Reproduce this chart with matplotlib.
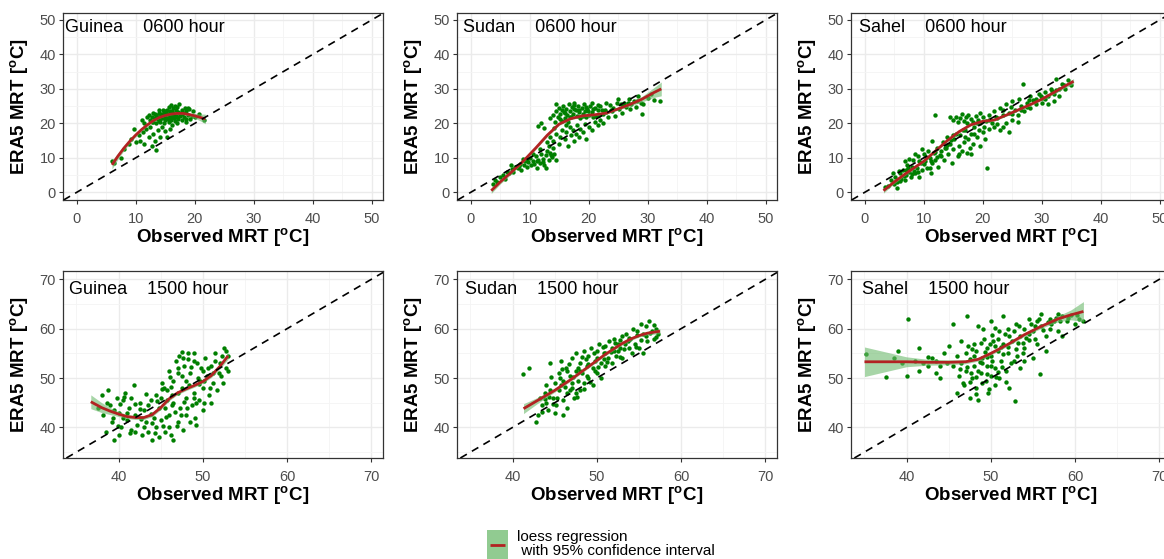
import matplotlib
matplotlib.use("Agg")
import matplotlib.pyplot as plt
import numpy as np

plt.rcParams['font.family'] = ['Liberation Sans', 'DejaVu Sans']
plt.rcParams['mathtext.fontset'] = 'custom'
plt.rcParams['mathtext.rm'] = 'Liberation Sans'
plt.rcParams['mathtext.bf'] = 'Liberation Sans:bold'

# ---------------- data ----------------
regions = ["Guinea", "Sudan", "Sahel"]
hours = ["0600 hour", "1500 hour"]

top_ticks = [0, 10, 20, 30, 40, 50]
top_minor = [5, 15, 25, 35, 45]
bottom_ticks = [40, 50, 60, 70]
bottom_minor = [35, 45, 55, 65]

# Guinea 0600
g06_pts = [(6.0,9.0),(6.3,8.5),(7.5,10.0),(8.0,12.5),(8.8,14.0),(9.3,15.5),(9.8,18.5),(10.0,14.5),(10.5,16.5),(10.8,15.0),
 (11.2,17.5),(11.5,14.0),(11.8,18.5),(12.2,16.0),(12.5,19.0),(12.8,13.5),(13.0,17.0),(13.3,15.0),(13.5,12.2),(13.8,18.0),
 (14.2,16.2),(14.5,19.0),(15.0,17.8),(15.3,16.0),(15.8,18.5),(16.2,19.5),(17.0,20.0),(17.8,21.0),(18.5,20.5),(19.2,21.2),
 (20.0,22.0),(20.8,22.8),(21.5,21.0),(19.8,23.5),(18.8,24.5),(17.3,25.6),(16.0,25.2),(11.0,21.0),(11.5,20.2),(12.0,21.8),
 (12.5,21.0),(12.8,22.0),(13.0,20.5),(13.2,21.5),(13.5,22.5),(13.5,20.0),(13.8,21.2),(14.0,22.0),(14.0,23.0),(14.2,20.5),
 (14.4,21.6),(14.6,22.4),(14.8,23.4),(14.8,20.2),(15.0,21.0),(15.0,22.0),(15.2,23.0),(15.3,24.0),(15.5,21.5),(15.5,22.6),
 (15.7,20.4),(15.8,23.5),(16.0,21.0),(16.0,22.2),(16.2,23.2),(16.3,24.4),(16.5,21.6),(16.5,22.8),(16.7,20.6),(16.8,23.8),
 (17.0,22.0),(17.0,24.8),(17.2,21.2),(17.4,23.0),(17.6,22.2),(17.8,24.0),(18.0,23.0),(18.2,21.8),(18.5,23.6),(18.8,22.4),
 (19.0,24.2),(13.0,23.0),(14.0,24.0),(12.2,22.5),(15.6,24.8),(16.6,25.0),(14.3,22.8),(15.1,21.7),(16.1,23.6),(13.7,21.9),
 (13.2,22.8),(14.6,23.8),(15.4,21.2),(16.4,21.9),(17.1,23.4),(17.9,22.6),(18.6,21.3),(13.9,20.8),(12.7,20.3),(15.9,22.0),
 (16.9,22.2),(14.1,21.3),(15.0,23.6),(18.3,24.6),(19.5,22.1)]
g06_loess_x = [6.0, 7.0, 8.0, 9.0, 10.0, 11.0, 12.0, 13.0, 14.0, 15.0, 16.0, 17.0, 18.0, 19.0, 20.0, 21.0, 21.8]
g06_loess_y = [8.0, 10.5, 12.8, 14.8, 16.6, 18.2, 19.6, 20.8, 21.7, 22.3, 22.7, 22.9, 22.9, 22.6, 22.2, 21.7, 21.3]
g06_loess_ci = [1.2, 0.9, 0.7, 0.6, 0.5, 0.4, 0.3, 0.25, 0.2, 0.2, 0.2, 0.25, 0.3, 0.5, 0.7, 1.0, 1.4]

# Sudan 0600
s06_pts = [(3.8,2.5),(4.2,3.5),(4.5,3.0),(5.0,4.5),(5.5,5.0),(5.8,4.0),(6.2,6.0),(6.5,5.5),(7.0,6.8),(7.2,5.8),
 (7.5,7.5),(8.0,7.0),(8.3,8.2),(8.6,6.5),(9.0,8.0),(9.2,9.2),(9.5,7.5),(9.8,8.8),(10.0,10.0),(10.3,7.8),
 (10.5,9.0),(10.8,8.2),(11.0,10.5),(11.2,7.0),(11.5,9.5),(11.8,8.5),(12.0,11.0),(12.3,9.8),(12.5,8.0),(12.8,10.8),
 (13.0,12.0),(13.3,9.5),(13.5,11.5),(13.8,10.2),(14.0,12.8),(14.2,11.0),(14.5,9.5),
 (13.0,14.5),(13.5,16.0),(14.0,15.0),(14.5,17.0),(15.0,14.0),(15.2,16.2),(15.5,18.0),(16.0,15.5),(16.2,17.5),
 (16.5,13.5),(16.8,19.0),(17.0,16.5),(17.3,18.2),(17.5,15.0),(17.8,17.0),(18.0,19.5),(18.3,16.0),(18.6,18.5),(19.0,17.5),
 (19.3,19.8),(19.6,15.5),(20.0,19.0),(20.5,18.0),(21.0,20.5),(21.5,19.5),(22.0,21.0),(22.5,20.0),(12.0,20.0),(11.5,19.2),(12.5,18.8),
 (13.5,21.5),(14.0,22.5),(14.3,20.5),(14.5,23.5),(14.8,21.8),(15.0,24.5),(15.2,22.8),(15.5,20.8),(15.7,25.0),(15.8,23.2),
 (16.0,21.5),(16.2,24.2),(16.4,22.4),(16.6,25.5),(16.8,23.6),(17.0,21.8),(17.2,24.8),(17.4,22.8),(17.6,26.0),(17.8,23.8),
 (18.0,22.2),(18.2,25.0),(18.4,23.2),(18.6,21.5),(18.8,24.5),(19.0,22.8),(19.2,25.5),(19.4,23.6),(19.6,21.8),(19.8,24.2),
 (20.0,22.5),(20.3,25.0),(20.6,23.2),(21.0,24.5),(21.3,22.2),(21.6,23.8),(22.0,25.0),(22.4,22.8),(22.8,24.0),(23.2,21.8),
 (23.6,25.2),(24.0,23.5),(24.4,22.2),(24.8,25.8),(25.2,24.2),(25.6,23.0),(26.0,26.0),(26.4,24.8),(26.8,27.2),(27.2,25.5),
 (27.6,26.5),(28.0,24.8),(28.4,27.8),(28.8,26.0),(29.2,25.5),(29.0,22.8),(30.0,27.5),(30.5,28.5),(31.0,26.8),(32.0,26.5),
 (23.0,26.0),(25.0,27.0),(20.5,26.0),(14.5,25.5),
 (15.5,23.8),(16.5,20.5),(17.5,25.2),(18.5,22.0),(19.5,24.8),(20.8,21.8),(21.8,22.5),(23.0,23.2),(24.2,24.6),(25.8,25.2),
 (27.0,24.2),(28.2,26.5),(16.2,19.5),(14.2,18.8),(10.5,11.0),(11.8,12.5),(13.2,13.5),(8.8,9.8),(6.8,7.8),(12.8,7.2),
 (15.2,21.2),(16.0,23.0),(16.8,22.0),(17.6,24.2),(18.3,23.8),(19.1,22.2),(19.9,23.5),(20.7,24.2),(21.5,25.2),(22.2,23.8),
 (23.8,24.0),(25.4,25.5),(26.6,25.8),(11.2,9.2),(12.2,8.8),(13.6,10.8),(9.6,9.6),(8.2,7.6)]
s06_loess_x = [3.5, 5.0, 7.0, 9.0, 11.0, 13.0, 15.0, 17.0, 19.0, 21.0, 23.0, 25.0, 27.0, 29.0, 31.0, 32.3]
s06_loess_y = [0.5, 3.0, 6.0, 9.2, 12.8, 16.6, 19.8, 21.4, 22.2, 22.5, 23.0, 24.2, 25.5, 27.0, 28.9, 30.0]
s06_loess_ci = [0.8, 0.6, 0.5, 0.4, 0.4, 0.4, 0.35, 0.3, 0.3, 0.3, 0.3, 0.35, 0.5, 0.8, 1.4, 2.0]

# Sahel 0600
h06_pts = [(3.5,1.5),(4.0,2.0),(4.5,3.5),(5.0,2.5),(5.2,4.5),(5.5,3.0),(6.0,5.5),(6.2,4.0),(6.5,6.5),(6.8,3.5),
 (7.0,5.0),(7.2,8.0),(7.5,6.0),(7.8,4.5),(8.0,7.5),(8.2,9.5),(8.5,5.5),(8.8,7.0),(9.0,10.5),(9.2,4.5),
 (9.5,8.5),(9.8,6.5),(10.0,11.0),(10.2,9.0),(10.5,7.0),(10.8,12.0),(11.0,10.0),(11.2,5.5),(11.5,8.5),(11.8,11.5),
 (12.0,9.5),(12.2,13.0),(12.5,7.5),(12.8,10.8),(6.8,9.0),(7.5,9.8),(5.5,1.2),(8.5,11.0),(9.8,12.5),(4.8,5.5),
 (13.0,12.0),(13.3,14.5),(13.5,9.5),(13.8,13.0),(14.0,16.0),(14.2,11.0),(14.5,14.0),(14.8,8.5),(15.0,12.5),(15.2,15.5),
 (15.5,17.0),(15.8,10.5),(16.0,13.5),(16.2,16.5),(16.5,12.0),(16.8,14.5),(17.0,18.0),(17.3,11.5),(17.5,15.5),(17.8,13.0),
 (18.0,17.0),(18.3,14.0),(18.6,19.0),(19.0,16.0),(19.3,18.0),(19.6,13.5),(20.0,17.5),(20.4,15.5),(20.8,7.0),(12.0,22.5),
 (18.0,11.0),(11.5,15.0),
 (15.0,21.0),(15.5,22.0),(15.8,20.5),(16.2,21.5),(16.5,22.8),(16.8,20.8),(17.2,21.8),(17.6,22.5),(18.0,21.2),(18.4,20.5),
 (18.8,22.2),(19.2,21.0),(19.6,23.0),(20.0,21.8),(20.5,20.6),(14.5,22.0),(21.0,22.5),
 (21.0,18.5),(21.5,20.0),(22.0,19.0),(22.0,23.5),(22.5,21.5),(23.0,18.0),(23.0,24.5),(23.5,22.5),(24.0,20.0),(24.0,25.5),
 (24.5,23.0),(25.0,21.0),(25.0,26.5),(25.5,24.0),(26.0,22.5),(26.2,27.0),(26.5,25.0),(27.0,23.5),(26.8,31.5),(27.5,26.0),
 (28.0,24.5),(28.0,28.0),(28.5,26.8),(29.0,25.5),(29.5,28.5),(30.0,26.0),(30.0,27.5),(30.5,29.0),(31.0,25.5),(31.0,27.8),
 (31.5,30.0),(32.0,28.5),(32.0,26.5),(32.5,33.0),(33.0,30.0),(33.0,28.0),(33.5,31.5),(34.0,30.0),(34.5,32.5),(35.0,31.0),
 (23.5,19.0),(24.5,17.5),(26.0,20.5),
 (9.0,6.0),(10.0,8.2),(11.0,7.2),(12.0,11.8),(13.0,10.5),(14.0,13.8),(15.0,16.5),(16.0,11.0),(17.0,16.0),(18.5,16.8),
 (19.5,20.0),(21.0,21.0),(22.5,19.8),(23.5,23.8),(25.0,22.8),(26.5,23.8),(27.5,24.8),(29.0,27.2),(30.5,27.0),(32.5,29.8),
 (8.0,5.2),(7.0,6.5),(6.0,3.2),
 (5.8,6.2),(6.6,4.8),(7.3,7.0),(8.3,6.2),(9.3,9.2),(10.4,10.4),(11.3,9.0),(12.3,10.2),(13.6,12.8),(14.6,15.2),
 (16.6,18.2),(17.4,20.0),(19.0,20.2),(20.2,19.0),(22.2,22.0),(24.8,24.8),(27.8,26.8),(29.8,28.0),(31.8,29.5),(33.8,31.0)]
h06_loess_x = [3.2, 5.0, 7.0, 10.0, 12.0, 14.0, 16.0, 18.0, 20.0, 22.0, 24.0, 26.0, 28.0, 30.0, 32.0, 34.0, 35.4]
h06_loess_y = [0.5, 3.0, 5.5, 9.0, 12.0, 15.0, 17.6, 19.6, 20.6, 21.0, 22.4, 23.9, 25.4, 27.0, 28.9, 30.9, 32.2]
h06_loess_ci = [0.7, 0.5, 0.4, 0.35, 0.35, 0.35, 0.35, 0.3, 0.3, 0.3, 0.3, 0.3, 0.3, 0.35, 0.45, 0.6, 0.8]

# Guinea 1500
g15_pts = [(37.5,44.0),(38.0,46.5),(38.2,42.5),(38.5,39.0),(38.8,47.5),(39.0,44.5),(39.2,41.0),(39.5,37.5),(39.8,46.0),(40.0,43.0),
 (40.3,40.0),(40.5,45.5),(40.8,47.0),(41.0,41.5),(41.2,44.0),(41.5,39.5),(41.8,48.5),(42.0,42.5),(42.2,40.5),(42.5,45.0),
 (42.8,38.5),(43.0,43.5),(43.2,41.0),(43.5,39.0),(43.8,45.5),(44.0,37.5),(44.2,42.0),(44.5,40.0),(44.8,44.0),(44.8,38.0),
 (39.5,43.5),(40.5,42.0),(41.5,46.0),(42.5,43.8),
 (45.0,46.0),(45.0,41.5),(45.2,49.0),(45.5,39.0),(45.5,44.0),(45.8,47.5),(46.0,42.5),(46.0,51.5),(46.2,38.5),(46.5,45.0),
 (46.5,49.5),(46.8,53.5),(47.0,41.0),(47.0,47.0),(47.2,54.5),(47.3,44.0),(47.5,50.5),(47.6,39.5),(47.8,52.5),(48.0,46.0),
 (48.0,42.5),(48.2,55.0),(48.4,48.5),(48.5,51.0),(48.7,44.5),(48.9,53.5),(49.0,47.0),(49.2,40.5),(49.4,50.0),(49.6,45.5),
 (49.8,52.0),(50.0,48.0),(50.0,43.5),(50.3,54.0),(50.5,50.5),(50.7,46.5),(51.0,52.5),(51.2,49.0),(51.5,55.0),(51.7,47.5),
 (52.0,53.0),(52.2,50.5),(52.5,56.0),(52.7,52.0),(53.0,54.5),(53.0,51.5),(46.5,37.5),(47.5,55.3),(48.5,41.0),
 (46.2,48.2),(47.0,52.0),(48.0,49.5),(49.0,55.0),(50.0,51.5),(51.0,45.0),(45.8,45.5),(44.5,46.5),(43.0,40.0),(40.0,38.5),
 (47.5,48.0),(48.2,53.8),(49.2,45.0),(50.2,49.5),(51.2,51.0),(52.3,54.5),(46.7,43.2),(45.3,40.2),(44.0,40.8),(43.5,44.5),
 (42.0,39.0),(41.0,43.0),(40.2,44.8),(46.0,40.0),(49.5,48.8),(47.8,45.2),
 (38.6,45.0),(39.3,42.0),(39.9,40.2),(40.7,46.2),(41.3,38.8),(41.9,44.8),(42.7,41.8),(43.3,46.8),(43.9,42.8),(44.3,38.8),
 (44.6,45.3),(45.1,47.8),(45.6,42.2),(46.1,50.2),(46.4,46.5),(46.9,40.2),(47.1,51.0),(47.4,42.5),(47.7,54.0),(48.1,44.0),
 (48.6,52.2),(48.9,46.0),(49.3,53.0),(49.7,49.5),(50.1,45.0),(50.6,52.0),(50.9,48.0),(51.4,53.5),(51.9,51.0),(52.4,49.0),
 (52.8,55.5),(49.1,42.0),(46.3,44.5),(45.4,48.0)]
g15_loess_x = [36.7, 38.0, 39.0, 40.0, 41.0, 42.0, 43.0, 44.0, 45.0, 46.0, 47.0, 48.0, 49.0, 50.0, 51.0, 52.0, 53.0]
g15_loess_y = [45.2, 44.0, 43.3, 42.7, 42.2, 42.0, 42.0, 42.6, 44.0, 45.8, 47.0, 47.8, 48.5, 49.3, 50.5, 52.3, 54.5]
g15_loess_ci = [1.4, 1.0, 0.7, 0.5, 0.4, 0.4, 0.4, 0.4, 0.4, 0.4, 0.35, 0.35, 0.35, 0.35, 0.4, 0.5, 0.7]

# Sudan 1500
s15_pts = [(41.2,50.8),(42.0,52.0),(42.8,41.0),(43.0,42.5),(43.2,46.0),(43.5,44.5),(43.8,47.0),(44.0,45.0),(44.2,43.5),(44.5,47.5),
 (44.5,53.0),(44.8,46.0),(45.0,49.0),(45.2,44.5),(45.5,51.0),(45.5,47.5),(45.8,53.5),(46.0,45.5),(46.0,49.5),(46.3,52.0),
 (46.5,47.0),(46.5,44.0),(46.8,50.5),(47.0,54.0),(47.0,48.0),(47.3,46.0),(47.5,51.5),(47.5,55.0),(47.8,49.5),(48.0,47.5),
 (48.0,53.0),(48.3,51.0),(48.5,55.5),(48.5,49.0),(48.8,52.5),(49.0,50.0),(49.0,54.5),(49.3,56.0),(49.5,48.5),(49.5,52.0),
 (49.8,53.5),(50.0,51.0),(50.0,55.5),(50.3,57.0),(50.5,53.0),(50.5,50.0),(50.8,55.0),(51.0,52.5),(51.0,56.5),(51.3,54.0),
 (51.5,57.5),(51.8,53.0),(52.0,55.5),(52.0,58.0),(52.3,54.5),(52.5,57.0),(52.8,56.0),(53.0,58.5),(53.0,54.0),(53.3,57.0),
 (53.5,59.0),(53.8,56.0),(54.0,58.0),(54.3,60.0),(54.5,57.0),(54.8,58.8),(55.0,56.0),(55.2,61.0),(55.5,59.0),(55.8,60.5),
 (56.0,57.5),(56.2,61.5),(56.5,59.5),(56.8,58.0),(57.0,60.0),(57.3,59.0),(55.5,55.0),(54.2,55.0),(46.0,42.5),(45.0,43.0),
 (47.0,49.0),(48.0,51.5),(49.0,52.8),(50.0,54.0),(51.0,55.0),(47.5,47.0),(48.5,47.8),(46.5,51.5),(44.0,48.5),(52.5,55.5),
 (45.8,48.5),(46.8,47.5),(47.8,52.0),(48.8,50.5),(49.8,51.5),(50.8,53.8),(51.8,56.0),(52.8,57.8),(53.8,58.2),(54.8,59.5),
 (55.8,58.5),(56.8,60.8),(44.8,44.8),(43.8,45.8),
 (43.5,43.2),(44.3,46.2),(45.3,46.0),(45.6,50.0),(46.2,48.2),(46.7,52.8),(47.2,50.2),(47.7,46.2),(48.2,54.2),(48.7,53.8),
 (49.2,49.2),(49.7,55.0),(50.2,52.2),(50.7,56.2),(51.2,53.2),(51.7,55.2),(52.2,57.2),(52.7,54.2),(53.2,55.8),(53.7,57.6),
 (54.6,56.2),(55.3,57.8),(56.3,59.2),(57.0,58.4),(44.6,50.2),(45.9,51.8)]
s15_loess_x = [41.3, 43.0, 45.0, 47.0, 49.0, 51.0, 53.0, 54.0, 55.0, 56.0, 57.5]
s15_loess_y = [43.8, 45.5, 47.5, 49.8, 52.3, 54.8, 57.0, 57.9, 58.6, 59.1, 59.5]
s15_loess_ci = [1.0, 0.6, 0.35, 0.3, 0.3, 0.3, 0.3, 0.3, 0.3, 0.35, 0.5]

# Sahel 1500
h15_pts = [(35.2,54.8),(37.5,50.2),(38.5,54.0),(39.0,55.5),(40.2,62.0),(40.0,50.5),(41.0,53.5),(41.5,56.0),(41.5,51.5),(42.0,53.0),
 (42.5,52.5),(43.0,54.0),(43.5,51.0),(43.5,53.5),(44.0,52.5),(44.5,55.0),(44.8,53.0),(45.0,56.5),(45.5,52.5),(45.5,61.0),
 (46.0,54.5),(39.5,53.0),(42.5,54.2),(44.0,50.0),
 (46.0,47.0),(46.2,50.5),(46.5,53.0),(46.5,57.5),(46.8,48.5),(47.0,55.0),(47.0,51.5),(47.2,62.5),(47.5,46.0),(47.5,53.8),
 (47.8,50.0),(48.0,57.0),(48.0,52.5),(48.2,48.0),(48.3,55.5),(48.5,45.5),(48.5,60.5),(48.8,51.0),(49.0,54.0),(49.0,49.0),
 (49.2,58.0),(49.5,52.5),(49.5,56.0),(49.7,47.0),(50.0,50.5),(50.0,54.5),(50.0,61.5),(50.3,57.5),(50.5,52.0),(50.5,48.5),
 (50.8,55.5),(51.0,59.5),(51.0,50.0),(51.2,53.5),(51.5,57.0),(51.5,62.5),(51.8,51.5),(52.0,55.0),(52.0,60.0),(52.2,48.0),
 (52.5,57.5),(52.8,53.5),(52.9,45.4),(53.0,61.0),(53.0,55.8),
 (53.5,58.5),(53.5,52.0),(54.0,60.0),(54.0,56.0),(54.5,62.0),(54.5,57.8),(55.0,59.5),(55.0,54.0),(55.5,61.5),(55.5,57.0),
 (55.8,50.8),(56.0,60.5),(56.0,63.0),(56.5,58.5),(57.0,62.0),(57.0,60.0),(57.5,61.5),(58.0,63.0),(58.0,59.5),(58.5,62.5),
 (59.0,61.5),(59.5,62.8),(60.0,61.0),(60.5,62.0),(61.0,61.5),(56.5,55.5),(58.5,58.5),(54.0,53.5),
 (47.5,49.2),(48.5,51.5),(49.5,50.8),(50.5,56.5),(51.5,54.8),(49.0,53.0),(48.0,54.5),(50.0,52.5),
 (49.3,55.2),(50.2,58.8),(51.2,56.2),(52.2,58.5),(53.2,57.2),(48.8,57.2),(47.8,55.8),(50.8,51.2),(51.8,49.2),(49.8,47.8),
 (48.2,50.2),(54.5,59.0),(55.3,60.5),(56.8,61.3),(57.8,62.2),(53.8,55.0),(47.2,52.2),(50.5,60.2),
 (46.3,51.8),(46.7,49.0),(47.3,56.5),(47.7,51.0),(48.3,46.8),(48.7,53.2),(49.1,60.0),(49.4,49.5),(49.6,54.2),(49.9,57.0),
 (50.2,53.5),(50.6,50.2),(50.9,58.0),(51.3,52.2),(51.7,59.0),(52.1,56.2),(52.4,53.0),(52.7,59.5),(53.1,54.5),(53.4,60.5),
 (53.8,57.2),(54.2,58.2),(54.8,61.0),(55.2,58.0),(55.7,62.0),(56.2,59.8),(57.2,61.0),(58.2,61.5),(59.2,62.2),(60.2,62.8)]
h15_loess_x = [35.0, 37.5, 40.0, 42.5, 45.0, 47.0, 48.5, 50.0, 52.0, 54.0, 56.0, 58.0, 59.5, 61.0]
h15_loess_y = [53.3, 53.3, 53.3, 53.2, 53.2, 53.3, 53.8, 55.0, 56.8, 58.8, 60.5, 62.0, 62.8, 63.5]
h15_loess_ci = [3.0, 2.0, 1.0, 0.6, 0.5, 0.4, 0.35, 0.35, 0.35, 0.35, 0.4, 0.6, 1.0, 2.0]

panels = [
    (g06_pts, g06_loess_x, g06_loess_y, g06_loess_ci),
    (s06_pts, s06_loess_x, s06_loess_y, s06_loess_ci),
    (h06_pts, h06_loess_x, h06_loess_y, h06_loess_ci),
    (g15_pts, g15_loess_x, g15_loess_y, g15_loess_ci),
    (s15_pts, s15_loess_x, s15_loess_y, s15_loess_ci),
    (h15_pts, h15_loess_x, h15_loess_y, h15_loess_ci),
]

# ---------------- layout ----------------
W, H = 1164, 559
fig = plt.figure(figsize=(W / 100, H / 100), dpi=100)
fig.patch.set_facecolor('white')

col_left = [63, 457, 851]
row_top = [13, 271]
ax_w, ax_h = 320, 187

top_lim = (-2.3, 51.9)
top_ylim = (-2.2, 52.0)
bot_lim = (33.4, 71.4)
bot_ylim = (33.8, 71.7)

label_x_top = [-2.0, -1.3, -0.9]
label_x_bot = [34.1, 34.4, 34.7]

point_col = '#007F00'
line_col = '#B22222'
fill_col = '#6DBA6D'
grid_major = '#EBEBEB'
grid_minor = '#F4F4F4'
dark = '#333333'

for i, (pts, lx, ly, lci) in enumerate(panels):
    r, c = divmod(i, 3)
    left = col_left[c] / W
    bottom = 1 - (row_top[r] + ax_h) / H
    ax = fig.add_axes([left, bottom, ax_w / W, ax_h / H])
    ax.set_facecolor('white')

    if r == 0:
        ticks, minors = top_ticks, top_minor
        xl, yl = top_lim, top_ylim
        tx, ty = label_x_top[c], 50.4
    else:
        ticks, minors = bottom_ticks, bottom_minor
        xl, yl = bot_lim, bot_ylim
        tx, ty = label_x_bot[c], 69.6

    ax.set_xticks(ticks)
    ax.set_yticks(ticks)
    ax.set_xticks(minors, minor=True)
    ax.set_yticks(minors, minor=True)
    ax.set_xlim(*xl)
    ax.set_ylim(*yl)
    ax.grid(which='major', color=grid_major, lw=1.0, zorder=0)
    ax.grid(which='minor', color=grid_minor, lw=0.6, zorder=0)
    ax.set_axisbelow(True)
    ax.tick_params(which='major', length=3, width=0.8, color=dark,
                   labelsize=10.5, labelcolor='#4D4D4D', pad=2)
    ax.tick_params(axis='x', which='major', pad=5.5)
    ax.tick_params(which='minor', length=0)
    for sp in ax.spines.values():
        sp.set_color(dark)
        sp.set_linewidth(0.9)

    px = [p[0] for p in pts]
    py = [p[1] for p in pts]
    ax.scatter(px, py, s=10, color=point_col, linewidths=0, zorder=2)

    lx = np.array(lx)
    ly = np.array(ly)
    lci = np.array(lci)
    ax.fill_between(lx, ly - lci, ly + lci, color=fill_col, alpha=0.6,
                    linewidth=0, zorder=3)
    ax.plot(lx, ly, color=line_col, lw=2.0, zorder=4, solid_capstyle='butt')

    ax.axline((xl[0], xl[0]), slope=1, color='black', lw=1.2,
              ls=(0, (4.5, 3.5)), zorder=5)

    ax.text(tx, ty, f"{regions[c]}    {hours[r]}", fontsize=13,
            ha='left', va='top', color='black', zorder=6)

    ax.set_xlabel(r'Observed MRT [$^\mathbf{o}$C]', fontsize=13.5, fontweight='bold')
    ax.set_ylabel(r'ERA5 MRT [$^\mathbf{o}$C]', fontsize=13.5, fontweight='bold')
    ax.xaxis.set_label_coords(0.5, -38 / ax_h)
    ax.yaxis.set_label_coords(-43 / ax_w, 0.5)
    ax.xaxis.label.set_va('center')
    ax.yaxis.label.set_va('center')

# ---------------- legend ----------------
kx0, kx1 = 487, 508
ky0, ky1 = 530, 559
kax = fig.add_axes([kx0 / W, 1 - ky1 / H, (kx1 - kx0) / W, (ky1 - ky0) / H])
kax.set_xlim(0, 1)
kax.set_ylim(0, 1)
kax.set_facecolor(fill_col)
kax.patch.set_alpha(0.75)
for sp in kax.spines.values():
    sp.set_visible(False)
kax.set_xticks([])
kax.set_yticks([])
kax.plot([0.12, 0.88], [0.5, 0.5], color=line_col, lw=2.0, solid_capstyle='butt')

fig.text(517 / W, 1 - 537 / H, "loess regression", fontsize=11,
         ha='left', va='center', color='black')
fig.text(517 / W, 1 - 551 / H, " with 95% confidence interval", fontsize=11,
         ha='left', va='center', color='black')

fig.savefig('out.png', dpi=100, facecolor='white')
